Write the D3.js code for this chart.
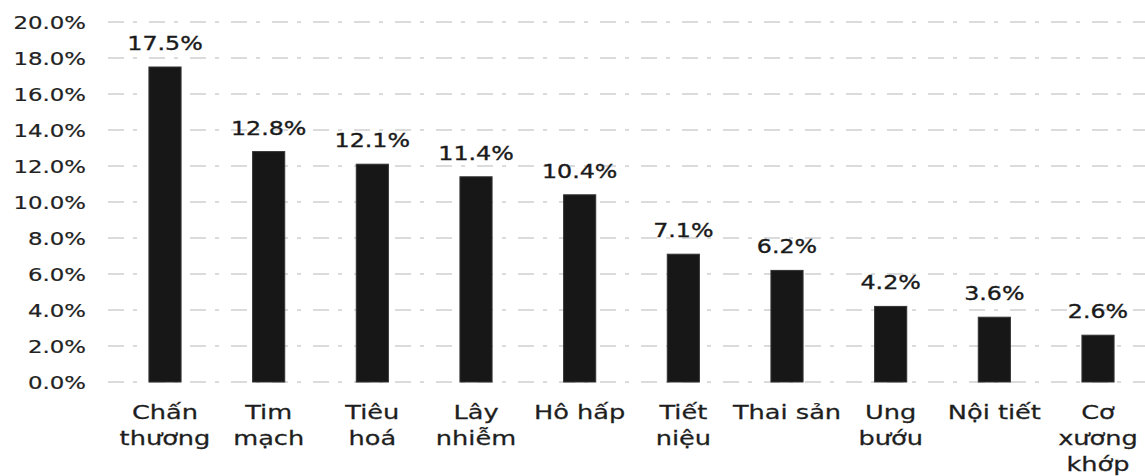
<!DOCTYPE html>
<html>
<head>
<meta charset="utf-8">
<script src="https://cdn.jsdelivr.net/npm/d3@7"></script>
<style>
  html, body { margin: 0; padding: 0; background: #fff; }
  svg { display: block; }
  text { font-family: "DejaVu Sans", Verdana, sans-serif; fill: #1e1e1e; }
</style>
</head>
<body>
<svg id="chart" width="1145" height="476"></svg>
<script>
// Disease groups (multi-line labels) and their share of cases
const categories = [
  ["Chấn", "thương"],
  ["Tim", "mạch"],
  ["Tiêu", "hoá"],
  ["Lây", "nhiễm"],
  ["Hô hấp"],
  ["Tiết", "niệu"],
  ["Thai sản"],
  ["Ung", "bướu"],
  ["Nội tiết"],
  ["Cơ", "xương", "khớp"]
];
const shares = [17.5, 12.8, 12.1, 11.4, 10.4, 7.1, 6.2, 4.2, 3.6, 2.6];
const yTicks = [0, 2, 4, 6, 8, 10, 12, 14, 16, 18, 20];

const W = 1145, H = 476;
const svg = d3.select("#chart");

const keys = categories.map(c => c.join(" "));
const x = d3.scalePoint().domain(keys).range([165, 1098]);
const barW = x.step() * 0.31;
const y = d3.scaleLinear().domain([0, 20]).range([382, 22]);

const fmt = v => v.toFixed(1) + "%";

// dashed horizontal gridlines
svg.append("g").selectAll("line")
  .data(yTicks)
  .join("line")
  .attr("x1", 108).attr("x2", W)
  .attr("y1", d => y(d)).attr("y2", d => y(d))
  .attr("stroke", "#b8b8b8")
  .attr("stroke-width", 1.1)
  .attr("stroke-dasharray", "16,9,4,12");

// y axis labels (no domain line, no tick marks)
const yAxis = svg.append("g")
  .attr("transform", "translate(86,0)")
  .call(d3.axisLeft(y).tickValues(yTicks).tickFormat(fmt).tickSize(0).tickPadding(0));
yAxis.select(".domain").remove();
yAxis.selectAll("text")
  .attr("x", 0)
  .attr("dy", "0.36em")
  .attr("transform", "scale(1.27,1)")
  .style("font-family", "DejaVu Sans, Verdana, sans-serif")
  .style("font-size", "18px")
  .style("fill", "#222")
  .style("stroke", "#222")
  .style("stroke-width", "0.2px");

// bars
svg.append("g").selectAll("rect")
  .data(shares)
  .join("rect")
  .attr("x", (d, i) => x(keys[i]) - barW / 2)
  .attr("y", d => y(d))
  .attr("width", barW)
  .attr("height", d => y(0) - y(d))
  .attr("fill", "#171717")
  .attr("stroke", "#333")
  .attr("stroke-width", 1);

// value labels above bars
svg.append("g").selectAll("text")
  .data(shares)
  .join("text")
  .attr("transform", (d, i) => `translate(${x(keys[i])},${y(d) - 17}) scale(1.25,1)`)
  .attr("text-anchor", "middle")
  .style("font-size", "19px")
  .style("fill", "#1a1a1a")
  .style("stroke", "#1a1a1a")
  .style("stroke-width", "0.35px")
  .text(d => fmt(d));

// category labels below the baseline
const cat = svg.append("g").selectAll("g")
  .data(categories)
  .join("g")
  .attr("transform", (d, i) => `translate(${x(keys[i])},0)`);
cat.selectAll("text")
  .data(d => d)
  .join("text")
  .attr("transform", (d, j) => `translate(0,${419 + j * 26}) scale(1.35,1)`)
  .attr("text-anchor", "middle")
  .style("font-size", "19px")
  .style("fill", "#1e1e1e")
  .style("stroke", "#1e1e1e")
  .style("stroke-width", "0.25px")
  .text(d => d);
</script>
</body>
</html>
